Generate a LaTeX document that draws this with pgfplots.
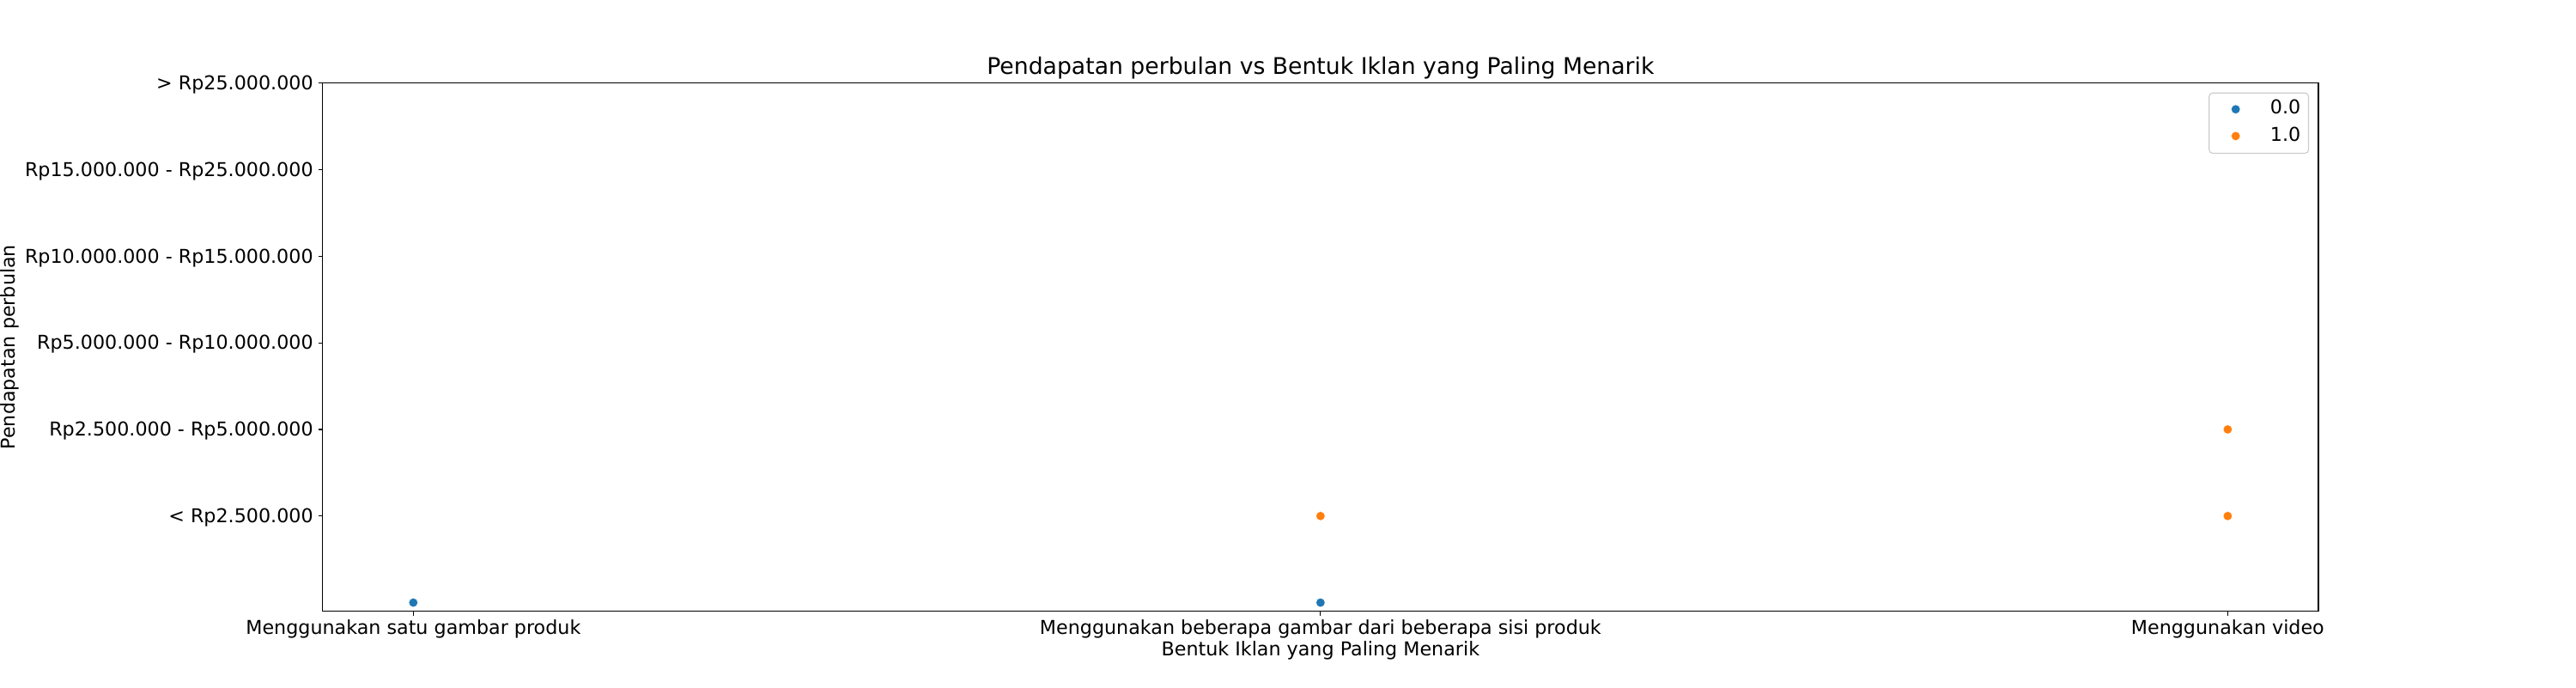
\documentclass[border=0pt]{standalone}
\usepackage{pgfplots}
\pgfplotsset{compat=1.18}
\usepackage{fontspec}
\setmainfont{DejaVu Sans}
\definecolor{tabblue}{HTML}{1F77B4}
\definecolor{taborange}{HTML}{FF7F0E}
\begin{document}
\begin{tikzpicture}
\useasboundingbox (-270.5pt,-63.6pt) rectangle (1889.5pt,512.4pt);
\begin{axis}[
  scale only axis, width=1673.5pt, height=442.8pt,
  xmin=-0.1, xmax=2.1, ymin=-1.1, ymax=5,
  xtick={0,1,2},
  xticklabels={Menggunakan satu gambar produk, Menggunakan beberapa gambar dari beberapa sisi produk, Menggunakan video},
  ytick={0,1,2,3,4,5},
  yticklabels={< Rp2.500.000, Rp2.500.000 - Rp5.000.000, Rp5.000.000 - Rp10.000.000, Rp10.000.000 - Rp15.000.000, Rp15.000.000 - Rp25.000.000, > Rp25.000.000},
  tick align=outside, major tick length=3.5pt,
  xtick pos=bottom, ytick pos=left,
  tick style={black, line width=0.8pt},
  axis line style={line width=0.8pt},
  xticklabel style={anchor=base, inner sep=0pt, yshift=-15.7pt, font=\fontsize{16}{19.2}\selectfont},
  yticklabel style={anchor=base east, inner sep=0pt, xshift=-4.2pt, yshift=-5.6pt, font=\fontsize{16}{19.2}\selectfont},
  title={Pendapatan perbulan vs Bentuk Iklan yang Paling Menarik},
  title style={at={(axis description cs:0.5,1)}, anchor=base, yshift=1.2pt, inner sep=0pt, font=\fontsize{19.2}{23}\selectfont},
  xlabel={Bentuk Iklan yang Paling Menarik},
  xlabel style={at={(axis description cs:0.5,0)}, anchor=base, yshift=-37.2pt, inner sep=0pt, font=\fontsize{16}{19.2}\selectfont},
  ylabel={Pendapatan perbulan},
  ylabel style={at={(axis description cs:-0.1543,0.5)}, anchor=base, rotate=0, inner sep=0pt, font=\fontsize{16}{19.2}\selectfont},
  legend cell align=left,
  legend style={at={(axis description cs:1,1)}, anchor=north east, xshift=-7.9pt, yshift=-7.9pt,
    draw=black!20, line width=0.8pt, rounded corners=3pt, fill=white,
    inner xsep=6.6pt, inner ysep=5.7pt, row sep=5.7pt, column sep=0pt,
    nodes={inner sep=0pt, text height=11.6pt, text depth=4.7pt},
    font=\fontsize{16}{19.2}\selectfont},
  legend image code/.code={
    \path[draw=none, fill=none] (-15.7pt,-7.7pt) rectangle (29pt,8.6pt);
    \draw[mark repeat=1,mark phase=1,#1] plot coordinates {(0pt,0.6pt)};
  },
]
\addplot[only marks, mark=*, mark size=3.8pt, mark options={fill=tabblue, draw=white, line width=0.3pt}]
  coordinates {(0,-1) (1,-1)};
\addlegendentry{0.0}
\addplot[only marks, mark=*, mark size=3.8pt, mark options={fill=taborange, draw=white, line width=0.3pt}]
  coordinates {(1,0) (2,1) (2,0)};
\addlegendentry{1.0}
\end{axis}
\end{tikzpicture}
\end{document}
